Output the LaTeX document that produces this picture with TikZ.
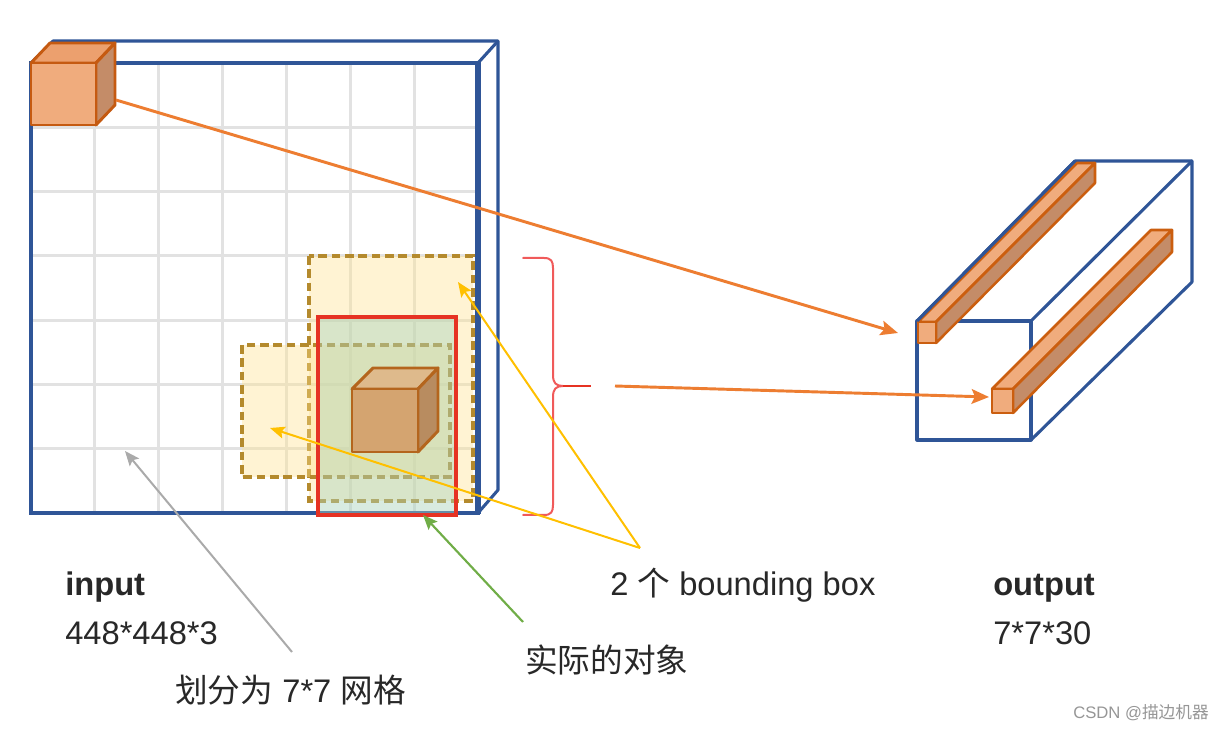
\documentclass[tikz,border=0pt]{standalone}
\usepackage{fontspec}
\setmainfont{Liberation Sans}
\newfontfamily\cjk{Noto Sans CJK SC}
\usetikzlibrary{arrows.meta}
\definecolor{cblue}{RGB}{47,85,151}
\definecolor{gridgray}{RGB}{226,226,226}
\definecolor{corange}{RGB}{237,125,49}
\definecolor{cubefront}{RGB}{240,172,125}
\definecolor{cubetop}{RGB}{236,160,110}
\definecolor{cuberight}{RGB}{196,140,104}
\definecolor{cubeedge}{RGB}{197,90,17}
\definecolor{objfront}{RGB}{212,164,112}
\definecolor{objtop}{RGB}{222,186,140}
\definecolor{objright}{RGB}{184,140,96}
\definecolor{objedge}{RGB}{180,101,29}
\definecolor{ybox}{RGB}{255,226,140}
\definecolor{yedge}{RGB}{180,138,45}
\definecolor{yarrow}{RGB}{255,192,0}
\definecolor{garrow}{RGB}{112,173,71}
\definecolor{grayarrow}{RGB}{170,170,170}
\definecolor{cred}{RGB}{230,50,35}
\definecolor{bracered}{RGB}{240,90,90}
\definecolor{objfill}{RGB}{170,212,190}
\definecolor{txt}{RGB}{40,40,40}
\definecolor{wm}{RGB}{150,150,150}
\begin{document}
\begin{tikzpicture}[x=0.75pt,y=-0.75pt,
  frame/.style={draw=cblue,line width=3pt},
  thinframe/.style={draw=cblue,line width=2.3pt,line join=round},
  gridl/.style={draw=gridgray,line width=2.2pt},
  bboxy/.style={draw=yedge,dash pattern=on 6.5pt off 3.5pt,line width=2.7pt,fill=ybox,fill opacity=0.38},
  redbox/.style={draw=cred,line width=3pt},
  cubeface/.style={draw=cubeedge,line width=2.2pt,line join=round},
  objface/.style={draw=objedge,line width=2.2pt,line join=round},
  barface/.style={draw=cubeedge!90!orange,line width=1.9pt,line join=round},
  oarrow/.style={draw=corange,line width=2.2pt,-{Stealth[length=13pt,width=11pt,inset=2.5pt]}},
  yarr/.style={draw=yarrow,line width=1.5pt,-{Stealth[length=11pt,width=9pt,inset=2pt]}},
  garr/.style={draw=garrow,line width=1.6pt,-{Stealth[length=11pt,width=9pt,inset=2pt]}},
  grarr/.style={draw=grayarrow,line width=1.5pt,-{Stealth[length=11pt,width=9pt,inset=2pt]}},
  lbl/.style={inner sep=0pt,text=txt,font=\fontsize{24.5}{28}\selectfont},
  wmark/.style={inner sep=0pt,text=wm,font=\fontsize{12.5}{15}\selectfont}
]
\useasboundingbox[fill=white] (0,0) rectangle (1225,730);

% ---------- input volume ----------
\foreach \i in {1,...,6} {
  \draw[gridl] ({31+63.9*\i},63) -- ({31+63.9*\i},513);
  \draw[gridl] (31,{63+64.3*\i}) -- (478,{63+64.3*\i});
}
% back edges
\draw[thinframe] (31,63) -- (53,41) -- (498,41) -- (498,490) -- (478,513);
\draw[thinframe] (478,63) -- (498,41);
% front face
\draw[frame] (31,63) rectangle (478,513);
\draw[draw=cblue,line width=4.5pt] (478,62) -- (478,514);

% bounding boxes
\path[bboxy] (309,256) rectangle (473,501);
\path[bboxy] (242,345) rectangle (450,477);
% actual object box
\path[fill=objfill,fill opacity=0.45] (318,317) rectangle (456,515);
\draw[redbox] (318,317) rectangle (456,515);

% object cube
\draw[objface,fill=objtop] (352,389) -- (373,368) -- (438,368) -- (418,389) -- cycle;
\draw[objface,fill=objright] (418,389) -- (438,368) -- (438,431) -- (418,452) -- cycle;
\draw[objface,fill=objfront] (352,389) rectangle (418,452);

% top-left cell cube
\draw[cubeface,fill=cubetop] (31,63) -- (50,43) -- (115,43) -- (96,63) -- cycle;
\draw[cubeface,fill=cuberight] (96,63) -- (115,43) -- (115,105) -- (96,125) -- cycle;
\draw[cubeface,fill=cubefront] (31,63) rectangle (96,125);

% ---------- output volume ----------
\draw[thinframe] (917,321) rectangle (1031,440);
\draw[thinframe] (1031,321) -- (1192,161) -- (1192,282) -- (1031,440);
\draw[thinframe] (917,321) -- (1075,161) -- (1192,161);
% bar 1
\draw[barface,fill=cubefront] (918,322) -- (1077,163) -- (1095,163) -- (936,322) -- cycle;
\draw[barface,fill=cuberight] (936,322) -- (1095,163) -- (1095,183) -- (936,343) -- cycle;
\draw[barface,fill=cubefront] (918,322) rectangle (936,343);
\draw[thinframe] (917,321) -- (1075,161);
% bar 2
\draw[barface,fill=cubefront] (992,389) -- (1151,230) -- (1172,230) -- (1013,389) -- cycle;
\draw[barface,fill=cuberight] (1013,389) -- (1172,230) -- (1172,252) -- (1013,413) -- cycle;
\draw[barface,fill=cubefront] (992,389) rectangle (1013,413);

% ---------- brace ----------
\coordinate (btop) at (523,258);
\coordinate (bbot) at (523,515);
\coordinate (btip) at (591,386);
\draw[bracered,line width=1.5pt,line cap=round]
  (btop) -- (544,258) .. controls (551,258) and (553,261) .. (553,268)
  -- (553,375) .. controls (553,383) and (556,386) .. (563,386)
  .. controls (556,386) and (553,389) .. (553,397)
  -- (553,505) .. controls (553,512) and (551,515) .. (544,515) -- (bbot);
\draw[cred,line width=2.2pt] (563,386) -- (btip);

% ---------- connectors ----------
\coordinate (cellsrc) at (116,100);
\coordinate (bar1in) at (898,333);
\coordinate (bracesrc) at (615,386);
\coordinate (bar2in) at (989,397);
\coordinate (yapex) at (640,548);
\coordinate (box1pt) at (458,282);
\coordinate (box2pt) at (270,428);
\coordinate (objsrc) at (523,622);
\coordinate (objpt) at (423,515);
\coordinate (gridsrc) at (292,652);
\coordinate (gridpt) at (125,451);

\draw[oarrow] (cellsrc) -- (bar1in);
\draw[oarrow] (bracesrc) -- (bar2in);
\draw[yarr] (yapex) -- (box1pt);
\draw[yarr] (yapex) -- (box2pt);
\draw[garr] (objsrc) -- (objpt);
\draw[grarr] (gridsrc) -- (gridpt);

% ---------- labels ----------
\node[lbl,anchor=base west] (lin) at (65,595) {\textbf{input}};
\node[lbl,anchor=base west] (lins) at (65,644) {448*448*3};
\node[lbl,anchor=base west] (lout) at (993,595) {\textbf{output}};
\node[lbl,anchor=base west] (louts) at (993,644) {7*7*30};
\node[lbl,anchor=base west] (lbb) at (610,595) {2 {\cjk 个} bounding box};
\node[lbl,anchor=base west] (lobj) at (525,672) {\cjk 实际的对象};
\node[lbl,anchor=base west] (lgrid) at (175,702) {{\cjk 划分为} 7*7 {\cjk 网格}};
\node[wmark,anchor=base west] (wmk) at (1073,718) {CSDN @{\cjk 描边机器}};
\end{tikzpicture}
\end{document}
